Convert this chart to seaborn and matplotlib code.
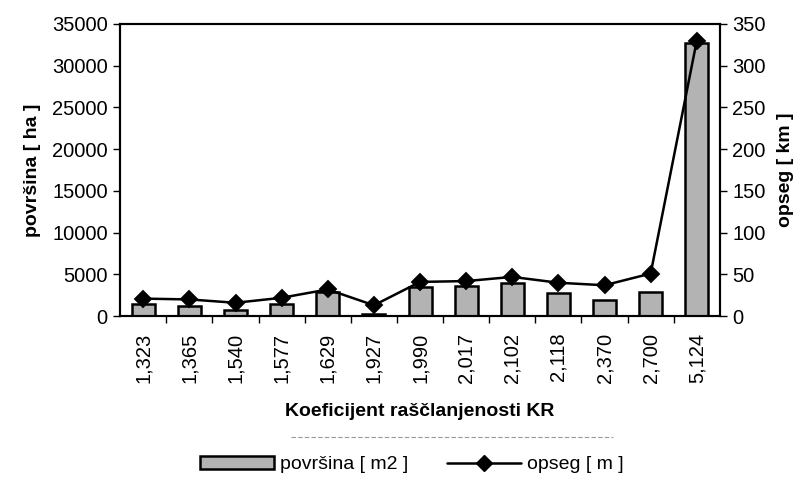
import matplotlib
matplotlib.use("Agg")
import matplotlib.pyplot as plt
import seaborn as sns
from matplotlib.patches import Patch
from matplotlib.lines import Line2D
from matplotlib.ticker import FixedLocator

# Data
kr = ["1,323", "1,365", "1,540", "1,577", "1,629", "1,927", "1,990",
      "2,017", "2,102", "2,118", "2,370", "2,700", "5,124"]
povrsina = [1400, 1250, 700, 1500, 2900, 300, 3500,
            3600, 4000, 2800, 1900, 2900, 32700]
opseg = [21, 20, 16, 22, 32, 13, 41, 42, 47, 40, 37, 51, 330]

sns.set_style("white")
plt.rcParams["font.family"] = ["Liberation Sans", "DejaVu Sans"]
plt.rcParams["text.color"] = "black"
plt.rcParams["axes.labelcolor"] = "black"

fig = plt.figure(figsize=(8.07, 4.79), dpi=100)
ax = fig.add_axes([0.149, 0.340, 0.743, 0.610])

sns.barplot(x=kr, y=povrsina, color="#b3b3b3", edgecolor="black",
            linewidth=1.8, width=0.5, saturation=1, ax=ax)
ax.set_ylim(0, 35000)
ax.set_yticks(range(0, 35001, 5000))
ax.set_xlim(-0.5, len(kr) - 0.5)

ax2 = ax.twinx()
sns.pointplot(x=kr, y=opseg, color="black", markers="D", markersize=8.5,
              linewidth=1.8, ax=ax2)
ax2.set_ylim(0, 350)
ax2.set_yticks(range(0, 351, 50))
ax2.set_xlim(-0.5, len(kr) - 0.5)

for a in (ax, ax2):
    for s in a.spines.values():
        s.set_color("black")
        s.set_linewidth(1.5)
    a.tick_params(axis="y", direction="out", length=5, width=1,
                  labelsize=14.5, colors="black", pad=4)

ax.tick_params(axis="y", left=True)
ax2.tick_params(axis="y", right=True)
ax.tick_params(axis="x", which="major", length=0, labelsize=14.5,
               labelrotation=90, pad=12, labelcolor="black")
ax.xaxis.set_minor_locator(FixedLocator([i + 0.5 for i in range(len(kr) - 1)]))
ax.tick_params(axis="x", which="minor", bottom=True, direction="out",
               length=5, width=1, color="black")

ax.set_xlabel("Koeficijent raščlanjenosti KR", fontsize=14,
              fontweight="bold", labelpad=14)
ax.set_ylabel("površina [ ha ]", fontsize=14, fontweight="bold", labelpad=8)
ax2.set_ylabel("opseg [ km ]", fontsize=14, fontweight="bold", labelpad=8)

# separator line above the legend
fig.add_artist(Line2D([0.36, 0.76], [0.087, 0.087], color="#999999",
                      linewidth=0.8, linestyle=(0, (4, 2))))

handles = [Patch(facecolor="#b3b3b3", edgecolor="black", linewidth=1.8),
           Line2D([0], [0], color="black", marker="D", markersize=8.5,
                  linewidth=1.8)]
fig.legend(handles, ["površina [ m2 ]", "opseg [ m ]"], loc="center",
           bbox_to_anchor=(0.51, 0.03), ncol=2, frameon=False,
           fontsize=14, handlelength=3.8, handletextpad=0.3,
           columnspacing=2.0)

fig.savefig("out.png", dpi=100)
